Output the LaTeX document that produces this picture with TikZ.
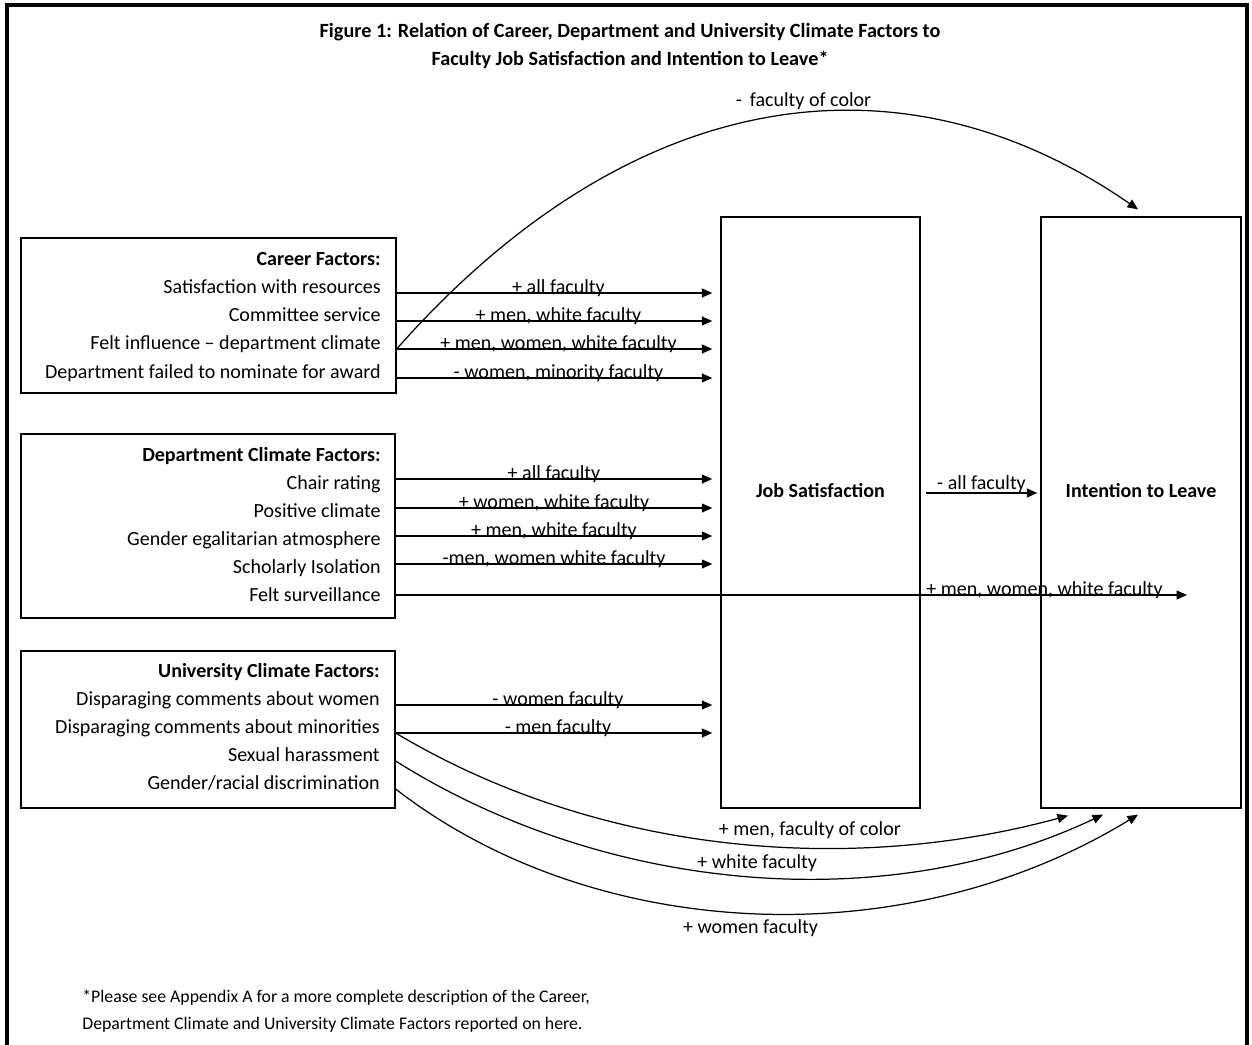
\documentclass[tikz,border=0pt]{standalone}
\usepackage{fontspec}
\setmainfont{Carlito}
\usetikzlibrary{
  positioning,
  arrows.meta,
  calc
}

\begin{document}
\begin{tikzpicture}[
  x=0.02cm, y=-0.02cm,
  every node/.style={font=\fontsize{11.4}{15.9}\selectfont},
  factbox/.style={
    rectangle, draw, line width=0.8pt, inner sep=0
  },
  outcome/.style={
    rectangle, draw, line width=0.8pt, inner sep=0,
    minimum width=3.98cm, minimum height=11.82cm
  },
  item/.style={anchor=base east, inner sep=0},
  head/.style={item, font=\fontsize{11.4}{15.9}\selectfont\bfseries},
  lbl/.style={anchor=base, inner sep=0},
  clbl/.style={inner sep=0},
  arrow/.style={-{Triangle[length=2.1mm, width=1.8mm]}, line width=0.7pt},
  frame/.style={line width=1.8pt}
]
 \useasboundingbox (0,0) rectangle (1252,1045);
 \draw[frame] (7,1045) -- (7,5) -- (1247,5) -- (1247,1045);

 % Title and footnote
 \node[font=\fontsize{11.5}{15.9}\selectfont\bfseries, align=center] (title) at (630,46)
   {Figure 1: Relation of Career, Department and University Climate Factors to\\
    Faculty Job Satisfaction and Intention to Leave*};
 \node[font=\fontsize{10.1}{15.3}\selectfont, align=left, anchor=west, inner sep=0] (note) at (82,1011)
   {*Please see Appendix A for a more complete description of the Career,\\
    Department Climate and University Climate Factors reported on here.};

 % Outcome boxes
 \node[outcome]                    (jobsat) at (820.5,512.5) {};
 \node[outcome, minimum width=4cm] (intent) at (1141,512.5) {};
 \node[font=\fontsize{11.4}{15.9}\selectfont\bfseries] (jslbl) at (820.5,491) {Job Satisfaction};
 \node[font=\fontsize{11.4}{15.9}\selectfont\bfseries] (illbl) at (1141,491) {Intention to Leave};

 % Career factors
 \node[factbox, minimum width=7.5cm, minimum height=3.1cm] (career) at (208.5,315.5) {};
 \node[head] (carhd) at (381,265) {Career Factors:};
 \node[item] (sat)   at (381,293) {Satisfaction with resources};
 \node[item] (comm)  at (381,321) {Committee service};
 \node[item] (infl)  at (381,349) {Felt influence -- department climate};
 \node[item] (nomin) at (381,378) {Department failed to nominate for award};

 \draw[arrow, shorten >=1.6mm] (sat.base -| career.east) -- (sat.base -| jobsat.west)
   node[lbl, midway] {+ all faculty};
 \draw[arrow, shorten >=1.6mm] (comm.base -| career.east) -- (comm.base -| jobsat.west)
   node[lbl, midway] {+ men, white faculty};
 \draw[arrow, shorten >=1.6mm] (infl.base -| career.east) -- (infl.base -| jobsat.west)
   node[lbl, midway] {+ men, women, white faculty};
 \draw[arrow, shorten >=1.6mm] (nomin.base -| career.east) -- (nomin.base -| jobsat.west)
   node[lbl, midway] {- women, minority faculty};
 \draw[arrow] (infl.base -| career.east)
   .. controls (630,85) and (900,45) .. ($(intent.north)+(-3,-7)$)
   node[clbl, pos=0.55, above=1.5pt] {-\, faculty of color};

 % Department climate factors
 \node[factbox, minimum width=7.48cm, minimum height=3.68cm] (dept) at (208,526) {};
 \node[head] (dephd) at (381,461) {Department Climate Factors:};
 \node[item] (chair)  at (381,489) {Chair rating};
 \node[item] (posclm) at (381,517) {Positive climate};
 \node[item] (gender) at (381,545) {Gender egalitarian atmosphere};
 \node[item] (isol)   at (381,573) {Scholarly Isolation};
 \node[item] (surv)   at (381,601) {Felt surveillance};

 \draw[arrow] ($(chair.base -| dept.east)+(0,-10)$) -- ($(chair.base -| jobsat.west)+(-8,-10)$)
   node[lbl, midway] {+ all faculty};
 \draw[arrow] ($(posclm.base -| dept.east)+(0,-9)$) -- ($(posclm.base -| jobsat.west)+(-8,-9)$)
   node[lbl, midway] {+ women, white faculty};
 \draw[arrow] ($(gender.base -| dept.east)+(0,-9)$) -- ($(gender.base -| jobsat.west)+(-8,-9)$)
   node[lbl, midway] {+ men, white faculty};
 \draw[arrow] ($(isol.base -| dept.east)+(0,-9)$) -- ($(isol.base -| jobsat.west)+(-8,-9)$)
   node[lbl, midway] {-men, women white faculty};
 \draw[arrow] ($(surv.base -| dept.east)+(0,-6)$) -- ($(surv.base -| intent.center)+(46,-6)$)
   node[lbl, pos=0.82] {+ men, women, white faculty};

 % Job satisfaction to intention to leave
 \draw[arrow] ($(jobsat.east |- jslbl)+(5,2)$) -- ($(intent.west |- jslbl)+(-3,2)$)
   node[lbl, midway, yshift=2pt] {- all faculty};

 % University climate factors
 \node[factbox, minimum width=7.48cm, minimum height=3.14cm] (univ) at (208,729.5) {};
 \node[head] (unihd) at (380,677) {University Climate Factors:};
 \node[item] (dwomen) at (380,705) {Disparaging comments about women};
 \node[item] (dminor) at (380,733) {Disparaging comments about minorities};
 \node[item] (harass) at (380,761) {Sexual harassment};
 \node[item] (discr)  at (380,789) {Gender/racial discrimination};

 \draw[arrow, shorten >=1.6mm] (dwomen.base -| univ.east) -- (dwomen.base -| jobsat.west)
   node[lbl, midway] {- women faculty};
 \draw[arrow, shorten >=1.6mm] (dminor.base -| univ.east) -- (dminor.base -| jobsat.west)
   node[lbl, midway] {- men faculty};
 \draw[arrow] (dminor.base -| univ.east)
   .. controls (600,855) and (850,875) .. ($(intent.south)+(-73,7)$)
   node[clbl, pos=0.62, above=5pt] {+ men, faculty of color};
 \draw[arrow] (harass.base -| univ.east)
   .. controls (600,890) and (880,920) .. ($(intent.south)+(-38,6)$)
   node[clbl, pos=0.52, above=2.5pt] {+ white faculty};
 \draw[arrow] (discr.base -| univ.east)
   .. controls (590,940) and (900,960) .. ($(intent.south)+(-3,6)$)
   node[clbl, pos=0.5, below=3.5pt] {+ women faculty};
\end{tikzpicture}
\end{document}
